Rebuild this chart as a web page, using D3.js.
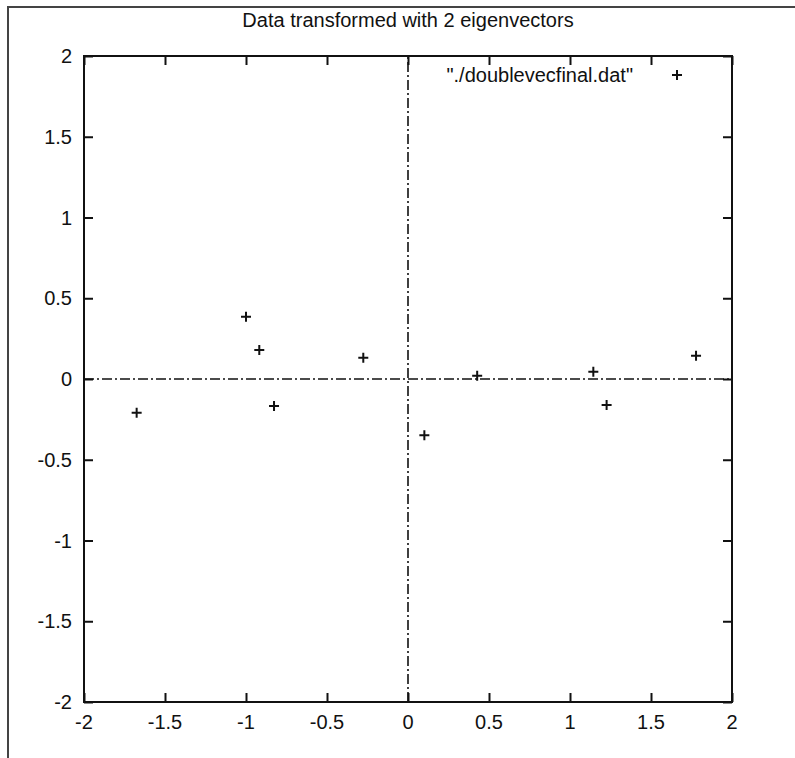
<!DOCTYPE html>
<html>
<head>
<meta charset="utf-8">
<script src="https://cdn.jsdelivr.net/npm/d3@7"></script>
<style>
  body { margin: 0; background: #fff; }
  text { font-family: "Liberation Sans", Arial, sans-serif; fill: #111; }
</style>
</head>
<body>
<div id="chart"></div>
<script>
// eigenvector-transformed points
const xValues = [-1.675, -1.0, -0.918, -0.827, -0.276, 0.101, 0.427, 1.144, 1.226, 1.778];
const yValues = [-0.209, 0.386, 0.180, -0.167, 0.132, -0.349, 0.020, 0.045, -0.161, 0.144];
const tickValues = [-2, -1.5, -1, -0.5, 0, 0.5, 1, 1.5, 2];
const titleText = "Data transformed with 2 eigenvectors";
const legendText = "\"./doublevecfinal.dat\"";

const width = 795, height = 758;
const margin = {top: 56, right: 63, bottom: 56, left: 84};
const tickLen = 9;
const plusArm = 5;
const fontSize = '20px';

const svg = d3.select('#chart')
    .append('svg')
    .attr('width', width)
    .attr('height', height);

// outer frame of the screenshot (only top and left edges show)
svg.append('path')
    .attr('d', `M8,${height} L8,7 L${width},7`)
    .attr('fill', 'none')
    .attr('stroke', '#444')
    .attr('stroke-width', 2);

const x = d3.scaleLinear()
    .domain([-2, 2])
    .range([margin.left, width - margin.right]);

const y = d3.scaleLinear()
    .domain([-2, 2])
    .range([height - margin.bottom, margin.top]);

// zero axes, dash-dot
const zeroStyle = g => g.attr('stroke', '#111')
    .attr('stroke-width', 1.6)
    .attr('stroke-dasharray', '10,3,2,3');

svg.append('line')
    .attr('x1', x(-2)).attr('x2', x(2))
    .attr('y1', y(0)).attr('y2', y(0))
    .call(zeroStyle);

svg.append('line')
    .attr('x1', x(0)).attr('x2', x(0))
    .attr('y1', y(-2)).attr('y2', y(2))
    .call(zeroStyle);

// axes with inward ticks on all four sides
const fmt = d => String(d);

const bottomAxis = svg.append('g')
    .attr('transform', `translate(0,${y(-2)})`)
    .call(d3.axisTop(x).tickValues(tickValues).tickSize(tickLen).tickFormat(''));
const topAxis = svg.append('g')
    .attr('transform', `translate(0,${y(2)})`)
    .call(d3.axisBottom(x).tickValues(tickValues).tickSize(tickLen).tickFormat(''));
const leftAxis = svg.append('g')
    .attr('transform', `translate(${x(-2)},0)`)
    .call(d3.axisRight(y).tickValues(tickValues).tickSize(tickLen).tickFormat(''));
const rightAxis = svg.append('g')
    .attr('transform', `translate(${x(2)},0)`)
    .call(d3.axisLeft(y).tickValues(tickValues).tickSize(tickLen).tickFormat(''));

[bottomAxis, topAxis, leftAxis, rightAxis].forEach(a => {
    a.select('.domain').remove();
    a.selectAll('line').attr('stroke', '#111').attr('stroke-width', 2);
});

// plot border
svg.append('rect')
    .attr('x', x(-2)).attr('y', y(2))
    .attr('width', x(2) - x(-2))
    .attr('height', y(-2) - y(2))
    .attr('fill', 'none')
    .attr('stroke', '#111')
    .attr('stroke-width', 2);

// tick labels
svg.selectAll('.xlabel')
    .data(tickValues)
    .enter()
    .append('text')
    .attr('class', 'xlabel')
    .attr('x', d => x(d))
    .attr('y', y(-2) + 27)
    .attr('text-anchor', 'middle')
    .style('font-size', fontSize)
    .text(fmt);

svg.selectAll('.ylabel')
    .data(tickValues)
    .enter()
    .append('text')
    .attr('class', 'ylabel')
    .attr('x', x(-2) - 12)
    .attr('y', d => y(d) + 7)
    .attr('text-anchor', 'end')
    .style('font-size', fontSize)
    .text(fmt);

// title
svg.append('text')
    .attr('x', x(0))
    .attr('y', 27)
    .attr('text-anchor', 'middle')
    .style('font-size', fontSize)
    .text(titleText);

// legend
svg.append('text')
    .attr('x', 633)
    .attr('y', 82)
    .attr('text-anchor', 'end')
    .style('font-size', fontSize)
    .text(legendText);

const plusPath = (px, py) =>
    `M${px - plusArm},${py} h${plusArm * 2} M${px},${py - plusArm} v${plusArm * 2}`;

svg.append('path')
    .attr('d', plusPath(677, 75))
    .attr('stroke', '#111')
    .attr('stroke-width', 2)
    .attr('fill', 'none');

// points
const points = xValues.map((v, i) => ({x: v, y: yValues[i]}));
svg.append('g')
    .selectAll('path')
    .data(points)
    .enter()
    .append('path')
    .attr('d', d => plusPath(x(d.x), y(d.y)))
    .attr('stroke', '#111')
    .attr('stroke-width', 2)
    .attr('fill', 'none');
</script>
</body>
</html>
